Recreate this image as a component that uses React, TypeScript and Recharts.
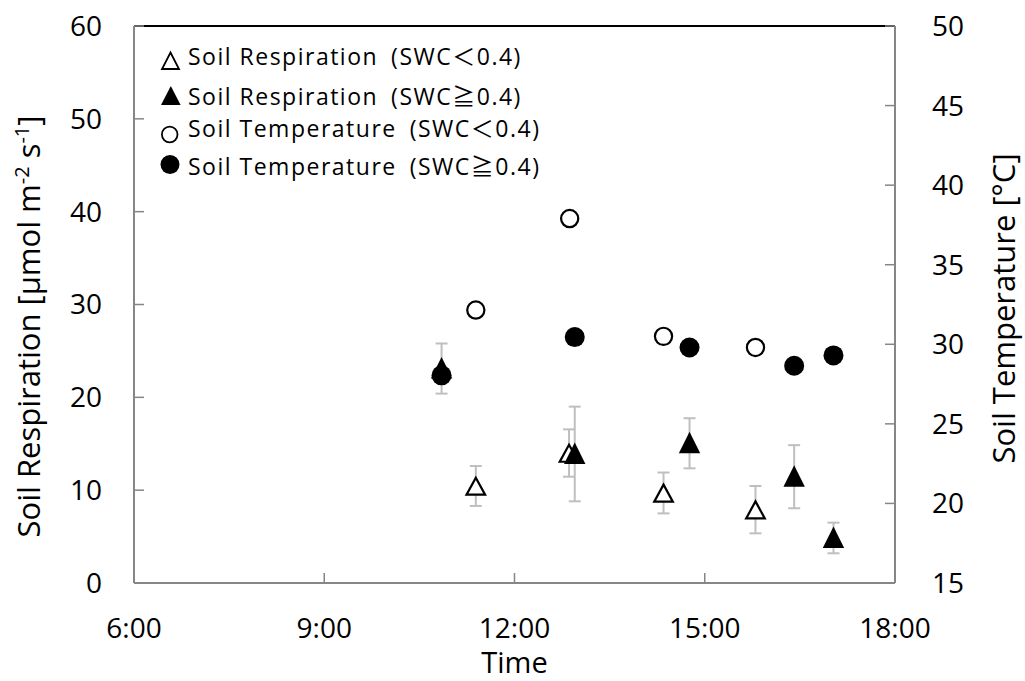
import React from 'react';
import {
  ScatterChart,
  Scatter,
  XAxis,
  YAxis,
  ErrorBar,
  Legend,
  ReferenceLine,
} from 'recharts';

// ---- data (time in decimal hours) ----
const hourTicks = [6, 9, 12, 15, 18];
const respTicks = [0, 10, 20, 30, 40, 50, 60];
const tempTicks = [15, 20, 25, 30, 35, 40, 45, 50];

const respLowTime = [11.39, 12.86, 14.35, 15.8];
const respLowValue = [10.45, 14.0, 9.7, 7.9];
const respLowError = [2.15, 2.55, 2.2, 2.55];

const respHighTime = [10.85, 12.95, 14.76, 16.41, 17.03];
const respHighValue = [23.1, 13.9, 15.05, 11.45, 4.85];
const respHighError = [2.7, 5.1, 2.7, 3.4, 1.65];

const tempLowTime = [11.39, 12.87, 14.35, 15.8];
const tempLowValue = [32.15, 37.9, 30.5, 29.8];

const tempHighTime = [10.85, 12.95, 14.76, 16.41, 17.03];
const tempHighValue = [28.05, 30.45, 29.8, 28.65, 29.3];

const legendLabels = [
  'Soil Respiration\u2002(SWC\uFF1C0.4)',
  'Soil Respiration\u2002(SWC\u22670.4)',
  'Soil Temperature\u2002(SWC\uFF1C0.4)',
  'Soil Temperature\u2002(SWC\u22670.4)',
];

const respLowData = respLowTime.map((x, i) => ({ x, y: respLowValue[i], err: respLowError[i] }));
const respHighData = respHighTime.map((x, i) => ({ x, y: respHighValue[i], err: respHighError[i] }));
const tempLowData = tempLowTime.map((x, i) => ({ x, y: tempLowValue[i] }));
const tempHighData = tempHighTime.map((x, i) => ({ x, y: tempHighValue[i] }));

const FONT = "'Open Sans', 'Noto Sans CJK JP', sans-serif";
const AXIS_COLOR = '#868686';
const ERR_COLOR = '#bfbfbf';

const OpenTriangle = (props: any) => {
  const { cx, cy } = props;
  if (cx == null || cy == null) return null;
  return (
    <path
      d={`M${cx},${cy - 8.3} L${cx + 9.3},${cy + 8.7} L${cx - 9.3},${cy + 8.7} Z`}
      fill="#fff"
      stroke="#000"
      strokeWidth={2.2}
    />
  );
};

const FilledTriangle = (props: any) => {
  const { cx, cy } = props;
  if (cx == null || cy == null) return null;
  return (
    <path
      d={`M${cx},${cy - 11.5} L${cx + 10.7},${cy + 10} L${cx - 10.7},${cy + 10} Z`}
      fill="#000"
    />
  );
};

const OpenCircle = (props: any) => {
  const { cx, cy } = props;
  if (cx == null || cy == null) return null;
  return <circle cx={cx} cy={cy} r={8.6} fill="#fff" stroke="#000" strokeWidth={2.2} />;
};

const FilledCircle = (props: any) => {
  const { cx, cy } = props;
  if (cx == null || cy == null) return null;
  return <circle cx={cx} cy={cy} r={10} fill="#000" />;
};

const LegendContent = () => (
  <svg width={430} height={150} style={{ display: 'block' }}>
    <path d="M22.5,19.5 L31,36 L14,36 Z" fill="#fff" stroke="#000" strokeWidth={1.8} />
    <path d="M22.8,53 L32.6,72 L13,72 Z" fill="#000" />
    <circle cx={21.7} cy={101.5} r={7.8} fill="#fff" stroke="#000" strokeWidth={1.8} />
    <circle cx={22} cy={131.5} r={9.5} fill="#000" />
    {legendLabels.map((t, i) => (
      <text
        key={i}
        x={40}
        y={[32, 72, 104, 142][i]}
        fontFamily={FONT}
        fontSize={23}
        letterSpacing={1.5}
        fill="#000"
      >
        {t}
      </text>
    ))}
  </svg>
);

const TimeLabel = (props: any) => {
  const vb = props.viewBox || { x: 134, y: 583, width: 761, height: 98 };
  return (
    <text
      x={vb.x + vb.width / 2}
      y={vb.y + 90}
      textAnchor="middle"
      fontFamily={FONT}
      fontSize={29}
      fill="#000"
    >
      Time
    </text>
  );
};

const LeftTitle = (props: any) => {
  const vb = props.viewBox || { x: 0, y: 26, width: 134, height: 557 };
  const tx = vb.x + 40;
  const ty = vb.y + vb.height / 2 + 22;
  return (
    <text
      x={tx}
      y={ty}
      transform={`rotate(-90, ${tx}, ${ty})`}
      textAnchor="middle"
      fontFamily={FONT}
      fontSize={31}
      fill="#000"
    >
      <tspan>Soil Respiration [μmol m</tspan>
      <tspan dy={-11} fontSize={20}>-2</tspan>
      <tspan dy={11}> s</tspan>
      <tspan dy={-11} fontSize={20}>-1</tspan>
      <tspan dy={11}>]</tspan>
    </text>
  );
};

const RightTitle = (props: any) => {
  const vb = props.viewBox || { x: 895, y: 26, width: 130, height: 557 };
  const tx = vb.x + 120;
  const ty = vb.y + vb.height / 2 + 4;
  return (
    <text
      x={tx}
      y={ty}
      transform={`rotate(-90, ${tx}, ${ty})`}
      textAnchor="middle"
      fontFamily={FONT}
      fontSize={31}
      fill="#000"
    >
      Soil Temperature [°C]
    </text>
  );
};

export default function App() {
  return (
    <div style={{ position: 'absolute', left: 0, top: 0, width: 1025, height: 681 }}>
      <ScatterChart
        width={1025}
        height={681}
        margin={{ top: 26, right: 0, bottom: 0, left: 0 }}
        style={{ fontFamily: FONT }}
      >
        <XAxis
          type="number"
          dataKey="x"
          domain={[6, 18]}
          ticks={hourTicks}
          interval={0}
          allowDataOverflow
          height={98}
          tickFormatter={(v: number) => `${v}:00`}
          axisLine={{ stroke: AXIS_COLOR, strokeWidth: 2 }}
          tickLine={{ stroke: AXIS_COLOR, strokeWidth: 1.5 }}
          tickSize={-10}
          tickMargin={45}
          tick={{ fill: '#000', fontSize: 28, fontFamily: FONT }}
          label={<TimeLabel />}
        />
        <YAxis
          yAxisId="left"
          type="number"
          dataKey="y"
          domain={[0, 60]}
          ticks={respTicks}
          interval={0}
          allowDataOverflow
          width={134}
          axisLine={{ stroke: AXIS_COLOR, strokeWidth: 2 }}
          tickLine={{ stroke: AXIS_COLOR, strokeWidth: 1.5 }}
          tickSize={-10}
          tickMargin={42}
          tick={{ fill: '#000', fontSize: 28, fontFamily: FONT }}
          label={<LeftTitle />}
        />
        <YAxis
          yAxisId="right"
          orientation="right"
          type="number"
          dataKey="y"
          domain={[15, 50]}
          ticks={tempTicks}
          interval={0}
          allowDataOverflow
          width={130}
          axisLine={{ stroke: AXIS_COLOR, strokeWidth: 2 }}
          tickLine={{ stroke: AXIS_COLOR, strokeWidth: 1.5 }}
          tickSize={-10}
          tickMargin={47}
          tick={{ fill: '#000', fontSize: 28, fontFamily: FONT }}
          label={<RightTitle />}
        />
        <ReferenceLine yAxisId="left" y={60} stroke="#000" strokeWidth={2} />
        <Legend
          layout="vertical"
          align="center"
          verticalAlign="middle"
          content={<LegendContent />}
          wrapperStyle={{ left: 148, top: 33, width: 430, height: 150 }}
        />
        <Scatter
          name="respLow"
          data={respLowData}
          yAxisId="left"
          shape={<OpenTriangle />}
          isAnimationActive={false}
        >
          <ErrorBar dataKey="err" direction="y" width={6} stroke={ERR_COLOR} strokeWidth={2} isAnimationActive={false} />
        </Scatter>
        <Scatter
          name="respHigh"
          data={respHighData}
          yAxisId="left"
          shape={<FilledTriangle />}
          isAnimationActive={false}
        >
          <ErrorBar dataKey="err" direction="y" width={6} stroke={ERR_COLOR} strokeWidth={2} isAnimationActive={false} />
        </Scatter>
        <Scatter
          name="tempLow"
          data={tempLowData}
          yAxisId="right"
          shape={<OpenCircle />}
          isAnimationActive={false}
        />
        <Scatter
          name="tempHigh"
          data={tempHighData}
          yAxisId="right"
          shape={<FilledCircle />}
          isAnimationActive={false}
        />
      </ScatterChart>
    </div>
  );
}
